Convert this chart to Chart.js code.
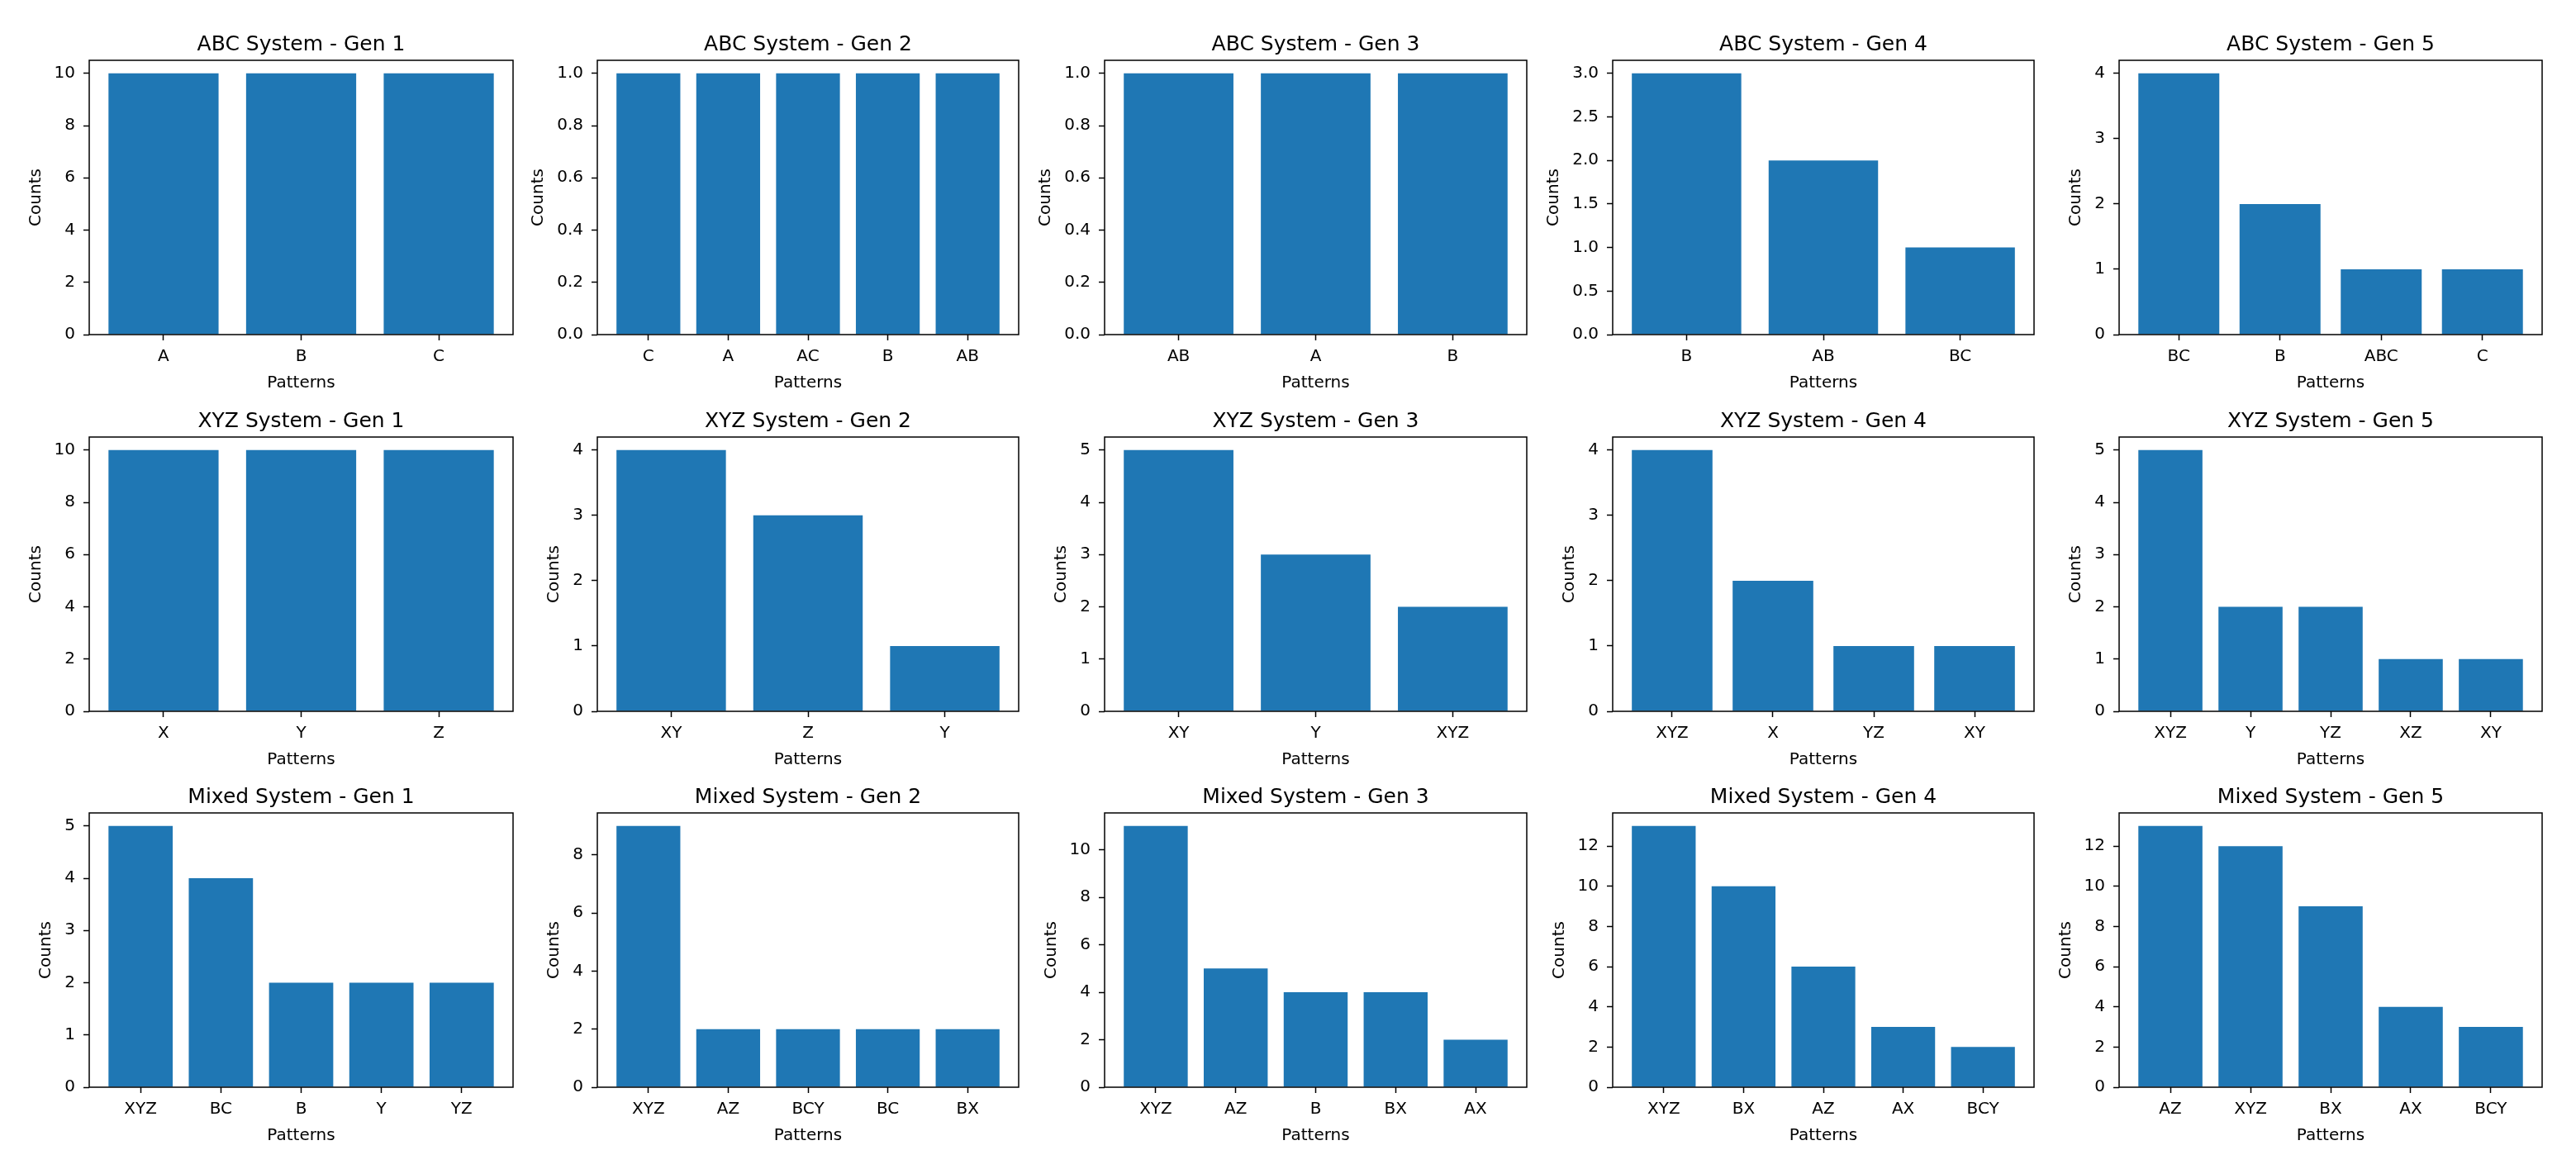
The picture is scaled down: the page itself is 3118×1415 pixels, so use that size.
<!DOCTYPE html>
<html>
<head>
<meta charset="utf-8">
<script src="https://cdn.jsdelivr.net/npm/chart.js@4.4.1/dist/chart.umd.min.js"></script>
<style>
  html, body { margin: 0; padding: 0; background: #fff; }
  body { width: 3118px; height: 1415px; position: relative; overflow: hidden; }
  .cell { position: absolute; }
</style>
</head>
<body>
<script>
// one row per system, one subplot per generation
const systems = ['ABC System', 'XYZ System', 'Mixed System'];

const abcPatterns = [['A', 'B', 'C'], ['C', 'A', 'AC', 'B', 'AB'], ['AB', 'A', 'B'], ['B', 'AB', 'BC'], ['BC', 'B', 'ABC', 'C']];
const abcCounts = [[10, 10, 10], [1, 1, 1, 1, 1], [1, 1, 1], [3, 2, 1], [4, 2, 1, 1]];
const abcSteps = [2, 0.2, 0.2, 0.5, 1];

const xyzPatterns = [['X', 'Y', 'Z'], ['XY', 'Z', 'Y'], ['XY', 'Y', 'XYZ'], ['XYZ', 'X', 'YZ', 'XY'], ['XYZ', 'Y', 'YZ', 'XZ', 'XY']];
const xyzCounts = [[10, 10, 10], [4, 3, 1], [5, 3, 2], [4, 2, 1, 1], [5, 2, 2, 1, 1]];
const xyzSteps = [2, 1, 1, 1, 1];

const mixedPatterns = [['XYZ', 'BC', 'B', 'Y', 'YZ'], ['XYZ', 'AZ', 'BCY', 'BC', 'BX'], ['XYZ', 'AZ', 'B', 'BX', 'AX'], ['XYZ', 'BX', 'AZ', 'AX', 'BCY'], ['AZ', 'XYZ', 'BX', 'AX', 'BCY']];
const mixedCounts = [[5, 4, 2, 2, 2], [9, 2, 2, 2, 2], [11, 5, 4, 4, 2], [13, 10, 6, 3, 2], [13, 12, 9, 4, 3]];
const mixedSteps = [1, 2, 2, 2, 2];

const allPatterns = [abcPatterns, xyzPatterns, mixedPatterns];
const allCounts = [abcCounts, xyzCounts, mixedCounts];
const allSteps = [abcSteps, xyzSteps, mixedSteps];

// plot area grid (pixels)
const colLeft = [108, 723, 1337, 1952, 2565];
const colRight = [621, 1233, 1848, 2462, 3077];
const rowTop = [73, 529, 984];
const rowBottom = [405, 861, 1316];

const FAMILY = "'DejaVu Sans'";
const TICK_SIZE = 20, TITLE_SIZE = 25;
const Y_W = 120, TITLE_H = 41, X_H = 80, RIGHT_PAD = 4;
const BAR_COLOR = '#1f77b4';

const measureCtx = document.createElement('canvas').getContext('2d');
function textWidth(s, size) {
  measureCtx.font = size + 'px ' + FAMILY;
  return measureCtx.measureText(s).width;
}

// full box around the plot area, like matplotlib spines
const frame = {
  id: 'frame',
  afterDraw(chart) {
    const { ctx, chartArea: a } = chart;
    ctx.save();
    ctx.strokeStyle = '#000';
    ctx.lineWidth = 1.5;
    ctx.strokeRect(a.left, a.top, a.right - a.left, a.bottom - a.top);
    ctx.restore();
  }
};

function makeChart(r, c) {
  const labels = allPatterns[r][c];
  const counts = allCounts[r][c];
  const step = allSteps[r][c];
  const title = systems[r] + ' - Gen ' + (c + 1);

  const L = colLeft[c], R = colRight[c], T = rowTop[r], B = rowBottom[r];
  const yMax = Math.max(...counts) * 1.05;
  const n = labels.length;
  const xPad = 0.05 * (n - 1 + 0.8);
  const dec = step < 1 ? 1 : 0;
  const topTick = Math.floor(yMax / step + 1e-9) * step;
  const labelW = textWidth(topTick.toFixed(dec), TICK_SIZE);

  const div = document.createElement('div');
  div.className = 'cell';
  div.style.left = (L - Y_W) + 'px';
  div.style.top = (T - TITLE_H) + 'px';
  div.style.width = (Y_W + R - L + RIGHT_PAD) + 'px';
  div.style.height = (TITLE_H + B - T + X_H) + 'px';
  const cv = document.createElement('canvas');
  div.appendChild(cv);
  document.body.appendChild(div);

  const tickFont = { family: FAMILY, size: TICK_SIZE, lineHeight: 1 };
  const tickGrid = { display: true, drawOnChartArea: false, drawTicks: true, tickLength: 7, tickWidth: 1.5, tickColor: '#000', offset: false };

  new Chart(cv, {
    type: 'bar',
    data: {
      datasets: [{
        data: counts.map((v, i) => ({ x: i, y: v })),
        backgroundColor: BAR_COLOR,
        borderWidth: 0,
        barPercentage: 0.8,
        categoryPercentage: 1
      }]
    },
    options: {
      responsive: true,
      maintainAspectRatio: false,
      animation: false,
      layout: { padding: { left: 0, right: RIGHT_PAD, top: 0, bottom: 0 } },
      plugins: {
        legend: { display: false },
        tooltip: { enabled: false },
        title: {
          display: true,
          text: title,
          color: '#000',
          fullSize: false,
          font: { family: FAMILY, size: TITLE_SIZE, weight: 'normal', lineHeight: 1 },
          padding: { top: 10, bottom: 6 }
        }
      },
      scales: {
        x: {
          type: 'linear',
          min: -0.4 - xPad,
          max: n - 1 + 0.4 + xPad,
          offset: false,
          afterBuildTicks: s => { s.ticks = labels.map((_, i) => ({ value: i })); },
          afterFit: s => { s.height = X_H; },
          ticks: { autoSkip: false, maxRotation: 0, padding: 10, color: '#000', font: tickFont, callback: v => labels[v] },
          grid: tickGrid,
          border: { display: false },
          title: { display: true, text: 'Patterns', color: '#000', font: tickFont, padding: { top: 0, bottom: X_H - 59 - 10 } }
        },
        y: {
          min: 0,
          max: yMax,
          afterFit: s => { s.width = Y_W; },
          ticks: { stepSize: step, includeBounds: false, padding: 10, color: '#000', font: tickFont, callback: v => Number(v).toFixed(dec) },
          grid: tickGrid,
          border: { display: false },
          title: { display: true, text: 'Counts', color: '#000', font: tickFont, padding: { top: Y_W - 49 - labelW, bottom: 3 } }
        }
      }
    },
    plugins: [frame]
  });
}

for (let r = 0; r < 3; r++) {
  for (let c = 0; c < 5; c++) makeChart(r, c);
}
</script>
</body>
</html>
